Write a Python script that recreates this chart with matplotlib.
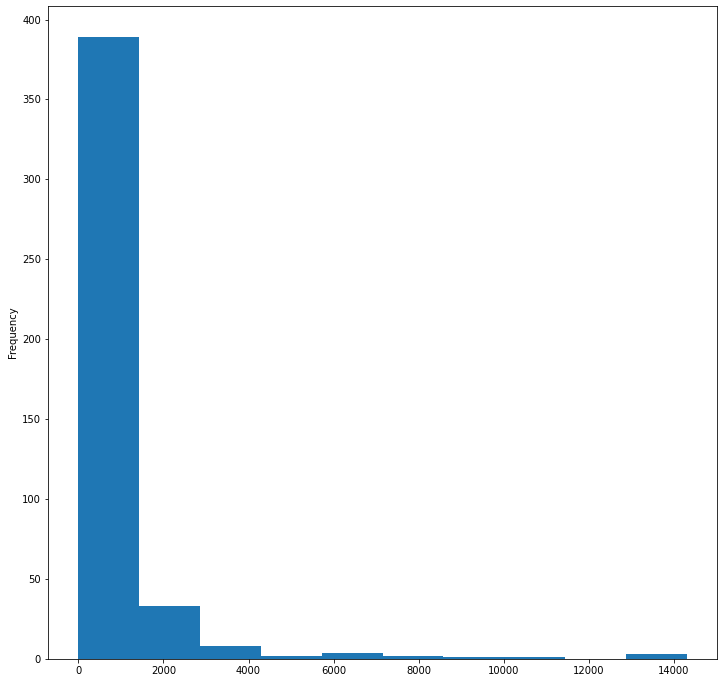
import numpy as np
import matplotlib
matplotlib.use('Agg')
import matplotlib.pyplot as plt

# 直方图数据
bin_edges = np.linspace(0, 14300, 11)     # 10个等宽区间
counts = [389, 33, 8, 2, 4, 2, 1, 1, 0, 3]    # 每个区间的频数

fig = plt.figure(figsize=(723 / 72, 683 / 72), dpi=72)
ax = fig.add_axes([48 / 723, 24 / 683, 669 / 723, 653 / 683])

ax.hist(bin_edges[:-1], bins=bin_edges, weights=counts, color='#1f77b4')
ax.set_ylabel('Frequency')

fig.savefig('out.png', dpi=72, facecolor='white')
